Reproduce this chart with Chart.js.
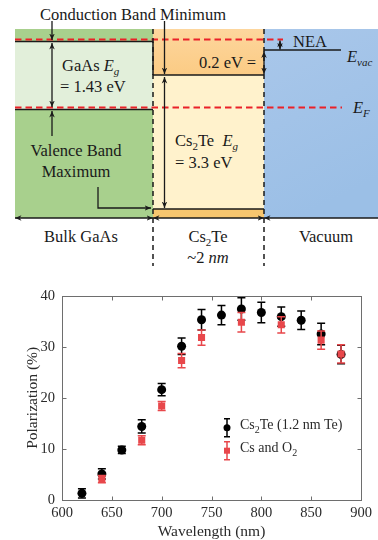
<!DOCTYPE html>
<html>
<head>
<meta charset="utf-8">
<script src="https://cdn.jsdelivr.net/npm/chart.js@4"></script>
<style>
  html,body{margin:0;padding:0;background:#fff;}
  #wrap{position:relative;width:378px;height:540px;overflow:hidden;background:#fff;}
  #diagram{position:absolute;left:0;top:0;}
  #chartBox{position:absolute;left:0;top:280px;width:378px;height:260px;}
  .t{font-family:"Liberation Serif","Times New Roman",serif;font-size:16.5px;fill:#1a1a1a;white-space:pre;}
  .leg{position:absolute;left:240px;font-family:"Liberation Serif","Times New Roman",serif;font-size:14px;line-height:18px;color:#2a2a2a;white-space:nowrap;}
  .leg sub{font-size:10px;vertical-align:-4px;line-height:0;}
</style>
</head>
<body>
<div id="wrap">
<svg id="diagram" width="378" height="280" xmlns="http://www.w3.org/2000/svg">
  <defs>
    <marker id="ah" viewBox="0 0 8 8" refX="8" refY="4" markerWidth="6.5" markerHeight="6.5" orient="auto-start-reverse" markerUnits="userSpaceOnUse">
      <path d="M0,0.6 L8,4 L0,7.4 L2.4,4 z" fill="#1a1a1a"/>
    </marker>
    <linearGradient id="gOr" x1="0" y1="0" x2="0" y2="1">
      <stop offset="0" stop-color="#fdd69d"/><stop offset="1" stop-color="#fbcb84"/>
    </linearGradient>
    <linearGradient id="gBl" x1="0" y1="0" x2="0.3" y2="1">
      <stop offset="0" stop-color="#a9c7ea"/><stop offset="1" stop-color="#9bbfe6"/>
    </linearGradient>
  </defs>
  <!-- GaAs -->
  <rect x="15" y="29" width="138" height="189" fill="#a8d08d"/>
  <rect x="15" y="41.5" width="138" height="68" fill="#e2efda"/>
  <!-- Cs2Te -->
  <rect x="153" y="29" width="111" height="46" fill="url(#gOr)"/>
  <rect x="153" y="75" width="111" height="134" fill="#fff2cc"/>
  <rect x="153" y="209" width="111" height="9" fill="#f7c66f"/>
  <!-- Vacuum -->
  <rect x="264" y="29" width="114" height="189" fill="url(#gBl)"/>

  <!-- band lines -->
  <g stroke="#1a1a1a" stroke-width="1.5" fill="none">
    <line x1="15" y1="41.5" x2="153" y2="41.5"/>
    <line x1="15" y1="109.5" x2="153" y2="109.5"/>
    <line x1="153" y1="75" x2="264" y2="75"/>
    <line x1="153" y1="209" x2="264" y2="209"/>
    <line x1="264" y1="50" x2="341" y2="50"/>
    <line x1="153" y1="41.5" x2="153" y2="75"/>
  </g>
  <!-- red dashed -->
  <g stroke="#ea2128" stroke-width="2" stroke-dasharray="6.5,4" fill="none">
    <line x1="15" y1="39.5" x2="283" y2="39.5"/>
    <line x1="15" y1="107.5" x2="342" y2="107.5"/>
  </g>
  <!-- black dashed verticals -->
  <g stroke="#1a1a1a" stroke-width="1.5" stroke-dasharray="5,4" fill="none">
    <line x1="153" y1="29" x2="153" y2="266"/>
    <line x1="264" y1="29" x2="264" y2="266"/>
  </g>
  <!-- arrows -->
  <g stroke="#1a1a1a" stroke-width="1.3" fill="none">
    <line x1="52" y1="21" x2="52" y2="40" marker-end="url(#ah)"/>
    <line x1="52" y1="43" x2="52" y2="107" marker-start="url(#ah)" marker-end="url(#ah)"/>
    <line x1="52" y1="136" x2="52" y2="111" marker-end="url(#ah)"/>
    <line x1="164.5" y1="21" x2="164.5" y2="74" marker-end="url(#ah)"/>
    <line x1="164.5" y1="77" x2="164.5" y2="208" marker-start="url(#ah)" marker-end="url(#ah)"/>
    <line x1="264" y1="51.5" x2="264" y2="74" marker-start="url(#ah)" marker-end="url(#ah)"/>
    <line x1="280" y1="40.5" x2="280" y2="49.5" marker-start="url(#ah)" marker-end="url(#ah)"/>
    <polyline points="98,187 98,208 151,208" marker-end="url(#ah)"/>
    <line x1="15" y1="218" x2="153" y2="218" marker-start="url(#ah)" marker-end="url(#ah)"/>
    <line x1="153" y1="218" x2="264" y2="218" marker-start="url(#ah)" marker-end="url(#ah)"/>
    <line x1="264" y1="218" x2="380" y2="218" marker-start="url(#ah)"/>
  </g>
  <!-- texts -->
  <text class="t" x="133" y="20" text-anchor="middle">Conduction Band Minimum</text>
  <text class="t" x="62" y="71">GaAs <tspan font-style="italic">E</tspan><tspan font-style="italic" font-size="11" dy="4">g</tspan></text>
  <text class="t" x="60" y="92">= 1.43 eV</text>
  <text class="t" x="256" y="68" text-anchor="end">0.2 eV =</text>
  <text class="t" x="293" y="47">NEA</text>
  <text class="t" x="347" y="62"><tspan font-style="italic">E</tspan><tspan font-style="italic" font-size="11" dy="4">vac</tspan></text>
  <text class="t" x="353" y="113"><tspan font-style="italic">E</tspan><tspan font-style="italic" font-size="11" dy="4">F</tspan></text>
  <text class="t" x="175" y="146">Cs<tspan font-size="11" dy="4">2</tspan><tspan dy="-4">Te  </tspan><tspan font-style="italic">E</tspan><tspan font-style="italic" font-size="11" dy="4">g</tspan></text>
  <text class="t" x="175" y="168">= 3.3 eV</text>
  <text class="t" x="76" y="156" text-anchor="middle">Valence Band</text>
  <text class="t" x="76" y="177" text-anchor="middle">Maximum</text>
  <text class="t" x="81" y="242" text-anchor="middle">Bulk GaAs</text>
  <text class="t" x="208" y="242" text-anchor="middle">Cs<tspan font-size="11" dy="4">2</tspan><tspan dy="-4">Te</tspan></text>
  <text class="t" x="208" y="263" text-anchor="middle">~2 <tspan font-style="italic">nm</tspan></text>
  <text class="t" x="326" y="242" text-anchor="middle">Vacuum</text>
</svg>

<div id="chartBox"><canvas id="c" width="378" height="260"></canvas></div>
<div class="leg" style="top:416px;">Cs<sub>2</sub>Te (1.2 nm Te)</div>
<div class="leg" style="top:439px;">Cs and O<sub>2</sub></div>
</div>

<script>
// ---- data ----
const wavelengthsCs2Te = [620, 640, 660, 680, 700, 720, 740, 760, 780, 800, 820, 840, 860, 880];
const polarizationCs2Te = [1.3, 5.1, 9.8, 14.4, 21.6, 30.1, 35.3, 36.2, 37.4, 36.7, 35.9, 35.2, 32.5, 28.5];
const errorCs2Te = [0.9, 1.0, 0.7, 1.3, 1.2, 1.6, 2.0, 1.9, 2.2, 2.0, 1.9, 1.8, 2.1, 1.8];

const wavelengthsCsO2 = [640, 680, 700, 720, 740, 780, 820, 860, 880];
const polarizationCsO2 = [4.1, 11.7, 18.4, 27.3, 31.8, 34.8, 34.3, 31.3, 28.6];
const errorCsO2 = [0.7, 0.9, 0.9, 1.4, 1.5, 1.9, 1.6, 1.8, 1.8];

const xTicks = [600, 650, 700, 750, 800, 850, 900];
const yTicks = [0, 10, 20, 30, 40];

const seriesNames = ['Cs2Te (1.2 nm Te)', 'Cs and O2'];

const BLACK = '#000000';
const RED = '#e8474b';
const SERIF = '"Liberation Serif", "Times New Roman", serif';

function toPoints(xs, ys) { return xs.map((x, i) => ({x: x, y: ys[i]})); }

const errorBarPlugin = {
  id: 'errorBars',
  afterDatasetDraw(chart, args) {
    const ds = chart.data.datasets[args.index];
    if (!ds.errors) return;
    const ctx = chart.ctx, xs = chart.scales.x, ys = chart.scales.y;
    ctx.save();
    ctx.strokeStyle = ds.errColor;
    ctx.lineWidth = 1.5;
    ds.data.forEach((p, i) => {
      const e = ds.errors[i];
      const px = xs.getPixelForValue(p.x);
      const y1 = ys.getPixelForValue(p.y - e), y2 = ys.getPixelForValue(p.y + e);
      ctx.beginPath();
      ctx.moveTo(px, y1); ctx.lineTo(px, y2);
      ctx.moveTo(px - 4, y1); ctx.lineTo(px + 4, y1);
      ctx.moveTo(px - 4, y2); ctx.lineTo(px + 4, y2);
      ctx.stroke();
    });
    ctx.restore();
  }
};

const boxPlugin = {
  id: 'boxTicks',
  beforeDatasetsDraw(chart) {
    const {ctx, chartArea: a} = chart;
    const xs = chart.scales.x, ys = chart.scales.y;
    ctx.save();
    ctx.strokeStyle = '#6e6e6e';
    ctx.lineWidth = 1;
    const L = Math.round(a.left) + 0.5, R = Math.round(a.right) + 0.5;
    const T = Math.round(a.top) + 0.5, B = Math.round(a.bottom) + 0.5;
    ctx.strokeRect(L, T, R - L, B - T);
    ctx.beginPath();
    xTicks.forEach(v => {
      const px = Math.round(xs.getPixelForValue(v)) + 0.5;
      ctx.moveTo(px, B); ctx.lineTo(px, B - 4);
      ctx.moveTo(px, T); ctx.lineTo(px, T + 4);
    });
    yTicks.forEach(v => {
      const py = Math.round(ys.getPixelForValue(v)) + 0.5;
      ctx.moveTo(L, py); ctx.lineTo(L + 4, py);
      ctx.moveTo(R, py); ctx.lineTo(R - 4, py);
    });
    ctx.stroke();
    ctx.restore();
  }
};

const legendMarkerPlugin = {
  id: 'legendMarkers',
  afterDraw(chart) {
    const ctx = chart.ctx, a = chart.chartArea;
    const lx = a.left + 165;
    const items = [
      {y: a.top + 132, color: BLACK, style: 'circle'},
      {y: a.top + 155, color: RED, style: 'rect'}
    ];
    ctx.save();
    items.forEach(it => {
      ctx.strokeStyle = it.color; ctx.fillStyle = it.color; ctx.lineWidth = 1.5;
      ctx.beginPath();
      ctx.moveTo(lx, it.y - 9); ctx.lineTo(lx, it.y + 9);
      ctx.moveTo(lx - 3, it.y - 9); ctx.lineTo(lx + 3, it.y - 9);
      ctx.moveTo(lx - 3, it.y + 9); ctx.lineTo(lx + 3, it.y + 9);
      ctx.stroke();
      if (it.style === 'circle') {
        ctx.beginPath(); ctx.arc(lx, it.y, 3.5, 0, Math.PI * 2); ctx.fill();
      } else {
        ctx.fillRect(lx - 3, it.y - 3, 6, 6);
      }
    });
    ctx.restore();
  }
};

new Chart(document.getElementById('c'), {
  type: 'scatter',
  data: {
    datasets: [
      {
        label: seriesNames[1],
        data: toPoints(wavelengthsCsO2, polarizationCsO2),
        errors: errorCsO2, errColor: RED,
        pointStyle: 'rect', pointRadius: 5, pointHoverRadius: 5,
        backgroundColor: RED, borderColor: RED, borderWidth: 0, showLine: false
      },
      {
        label: seriesNames[0],
        data: toPoints(wavelengthsCs2Te, polarizationCs2Te),
        errors: errorCs2Te, errColor: BLACK,
        pointStyle: 'circle', pointRadius: 4.5, pointHoverRadius: 4.5,
        backgroundColor: BLACK, borderColor: BLACK, borderWidth: 0, showLine: false
      }
    ]
  },
  options: {
    responsive: false,
    animation: false,
    events: [],
    layout: {padding: {top: 13, right: 17, left: 0, bottom: 0}},
    plugins: {legend: {display: false}, tooltip: {enabled: false}},
    scales: {
      x: {
        type: 'linear', min: 600, max: 900,
        afterBuildTicks: s => { s.ticks = xTicks.map(v => ({value: v})); },
        afterFit: s => { s.height = 40; },
        grid: {display: false, drawTicks: false}, border: {display: false},
        ticks: {padding: 4, color: '#2a2a2a', font: {family: SERIF, size: 14.5}},
        title: {display: true, text: 'Wavelength (nm)', color: '#2a2a2a',
                font: {family: SERIF, size: 15.5, lineHeight: 1}, padding: {top: 0, bottom: 0}}
      },
      y: {
        type: 'linear', min: 0, max: 40,
        afterBuildTicks: s => { s.ticks = yTicks.map(v => ({value: v})); },
        afterFit: s => { s.width = 62; },
        grid: {display: false, drawTicks: false}, border: {display: false},
        ticks: {padding: 7, color: '#2a2a2a', font: {family: SERIF, size: 14.5}},
        title: {display: true, text: 'Polarization (%)', color: '#2a2a2a',
                font: {family: SERIF, size: 15.5, lineHeight: 1.2}, padding: {top: 24, bottom: 0}}
      }
    }
  },
  plugins: [boxPlugin, errorBarPlugin, legendMarkerPlugin]
});
</script>
</body>
</html>
